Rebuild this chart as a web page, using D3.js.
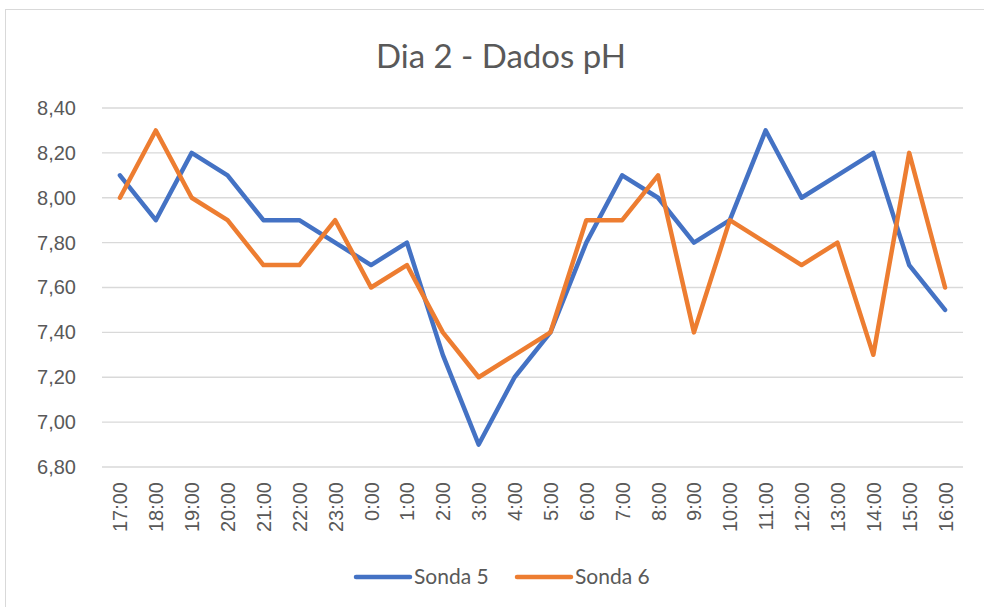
<!DOCTYPE html>
<html>
<head>
<meta charset="utf-8">
<script src="https://cdn.jsdelivr.net/npm/d3@7"></script>
<style>
  body { margin: 0; background: white; }
  svg { display: block; font-family: Lato, "Open Sans", sans-serif; }
</style>
</head>
<body>
<div id="chart"></div>
<script>
// Horas de medição
const horas = ["17:00", "18:00", "19:00", "20:00", "21:00", "22:00", "23:00", "0:00",
  "1:00", "2:00", "3:00", "4:00", "5:00", "6:00", "7:00", "8:00", "9:00", "10:00",
  "11:00", "12:00", "13:00", "14:00", "15:00", "16:00"];

// Valores de pH por sonda
const sonda5 = [8.10, 7.90, 8.20, 8.10, 7.90, 7.90, 7.80, 7.70, 7.80, 7.30, 6.90, 7.20,
  7.40, 7.80, 8.10, 8.00, 7.80, 7.90, 8.30, 8.00, 8.10, 8.20, 7.70, 7.50];
const sonda6 = [8.00, 8.30, 8.00, 7.90, 7.70, 7.70, 7.90, 7.60, 7.70, 7.40, 7.20, 7.30,
  7.40, 7.90, 7.90, 8.10, 7.40, 7.90, 7.80, 7.70, 7.80, 7.30, 8.20, 7.60];

const yTicks = [6.8, 7.0, 7.2, 7.4, 7.6, 7.8, 8.0, 8.2, 8.4];

const series = [
  { name: "Sonda 5", values: sonda5, color: "#4472C4" },
  { name: "Sonda 6", values: sonda6, color: "#ED7D31" }
];

const width = 984;
const height = 607;
const margin = { top: 108, right: 21, bottom: 140, left: 102 };
const textColor = "#595959";

const svg = d3.select("#chart")
  .append("svg")
  .attr("width", width)
  .attr("height", height);

// Moldura do gráfico
svg.append("rect")
  .attr("x", 5.5)
  .attr("y", 9.5)
  .attr("width", width)
  .attr("height", height)
  .attr("fill", "white")
  .attr("stroke", "#d9d9d9")
  .attr("stroke-width", 1);

const x = d3.scalePoint()
  .domain(horas)
  .range([margin.left, width - margin.right])
  .padding(0.5);

const y = d3.scaleLinear()
  .domain([6.8, 8.4])
  .range([height - margin.bottom, margin.top]);

// Grelha horizontal
svg.append("g")
  .selectAll("line")
  .data(yTicks)
  .join("line")
  .attr("x1", margin.left)
  .attr("x2", width - margin.right)
  .attr("y1", d => y(d))
  .attr("y2", d => y(d))
  .attr("stroke", "#d9d9d9")
  .attr("stroke-width", 1.3);

// Eixo Y
const fmt = d => d3.format(".2f")(d).replace(".", ",");
const yAxis = svg.append("g")
  .attr("transform", `translate(${margin.left - 26},0)`)
  .call(d3.axisLeft(y).tickValues(yTicks).tickFormat(fmt).tickSize(0).tickPadding(0));
yAxis.select(".domain").remove();
yAxis.selectAll("text")
  .attr("fill", textColor)
  .style("font-size", "20px");

// Eixo X
const xAxis = svg.append("g")
  .attr("transform", `translate(0,${height - margin.bottom})`)
  .call(d3.axisBottom(x).tickSize(0));
xAxis.select(".domain").remove();
xAxis.selectAll("text")
  .attr("fill", textColor)
  .style("font-size", "20px")
  .attr("transform", "rotate(-90)")
  .attr("x", -15)
  .attr("y", 0)
  .attr("dy", "0.35em")
  .style("text-anchor", "end");

// Linhas das séries
const line = d3.line()
  .x((d, i) => x(horas[i]))
  .y(d => y(d));

svg.append("g")
  .selectAll("path")
  .data(series)
  .join("path")
  .attr("d", d => line(d.values))
  .attr("fill", "none")
  .attr("stroke", d => d.color)
  .attr("stroke-width", 4.5)
  .attr("stroke-linejoin", "round")
  .attr("stroke-linecap", "round");

// Título
svg.append("text")
  .attr("x", 501)
  .attr("y", 68)
  .attr("text-anchor", "middle")
  .attr("fill", textColor)
  .style("font-size", "33px")
  .text("Dia 2 - Dados pH");

// Legenda
const legendX = [356, 517];
const legend = svg.append("g")
  .selectAll("g")
  .data(series)
  .join("g")
  .attr("transform", (d, i) => `translate(${legendX[i]},577)`);

legend.append("line")
  .attr("x1", 0)
  .attr("x2", 54)
  .attr("stroke", d => d.color)
  .attr("stroke-width", 4.5)
  .attr("stroke-linecap", "round");

legend.append("text")
  .attr("x", 58)
  .attr("dy", "0.35em")
  .attr("fill", textColor)
  .style("font-size", "21px")
  .text(d => d.name);
</script>
</body>
</html>
